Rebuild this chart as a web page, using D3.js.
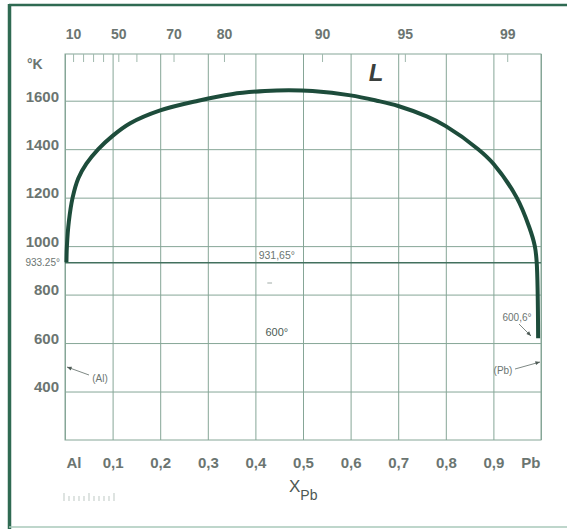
<!DOCTYPE html>
<html>
<head>
<meta charset="utf-8">
<script src="https://cdn.jsdelivr.net/npm/d3@7"></script>
<style>
  html, body { margin: 0; padding: 0; background: #fff; }
  svg { display: block; font-family: "Liberation Sans", Arial, sans-serif; }
</style>
</head>
<body>
<div id="chart"></div>
<script>
// bottom axis: mole fraction of Pb
const xTicks = [0, 0.1, 0.2, 0.3, 0.4, 0.5, 0.6, 0.7, 0.8, 0.9, 1];
const xLabels = ["Al", "0,1", "0,2", "0,3", "0,4", "0,5", "0,6", "0,7", "0,8", "0,9", "Pb"];
// left axis: temperature in K
const yTicks = [400, 600, 800, 1000, 1200, 1400, 1600];
// top axis: weight % Pb, placed at the mole fraction
const topTicks = [0.017, 0.038, 0.059, 0.080, 0.112, 0.150, 0.228, 0.334, 0.540, 0.714, 0.929];
const topLabels = ["10", "", "", "", "50", "", "70", "80", "90", "95", "99"];
// liquidus / miscibility gap curve: [xPb, T]
const curveX = [0.003, 0.004, 0.008, 0.016, 0.028, 0.045, 0.07, 0.1, 0.137, 0.2, 0.28, 0.35, 0.42, 0.47, 0.52, 0.6, 0.655, 0.7, 0.76, 0.8, 0.868, 0.9, 0.949, 0.975, 0.987, 0.991, 0.994];
const curveT = [933.25, 1000, 1100, 1200, 1280, 1340, 1400, 1455, 1507, 1560, 1600, 1627, 1640, 1643, 1640, 1622, 1600, 1578, 1535, 1495, 1400, 1340, 1200, 1080, 1000, 931.65, 620];
const monotectic = 931.65;

const W = 567, H = 529;
const pLeft = 65, pRight = 541, pTop = 54, pBottom = 440;

const svg = d3.select("#chart").append("svg")
    .attr("width", W)
    .attr("height", H);

const gridColor = "#86a697";
const textColor = "#6b7571";
const curveColor = "#1d4c3b";

// outer border of the figure
svg.append("line").attr("x1", 9).attr("x2", W).attr("y1", 5).attr("y2", 5)
    .attr("stroke", "#2f6a52").attr("stroke-width", 2.5);
svg.append("line").attr("x1", 9.5).attr("x2", 9.5).attr("y1", 4).attr("y2", H)
    .attr("stroke", "#2f6a52").attr("stroke-width", 3.5);
svg.append("line").attr("x1", 9).attr("x2", W).attr("y1", 527).attr("y2", 527)
    .attr("stroke", "#a9c8ba").attr("stroke-width", 1.5);

const x = d3.scaleLinear().domain([0, 1]).range([pLeft, pRight]);
const y = d3.scaleLinear().domain([200, 1600]).range([pBottom, 100.7]);

// plot frame
svg.append("rect")
    .attr("x", pLeft).attr("y", pTop)
    .attr("width", pRight - pLeft).attr("height", pBottom - pTop)
    .attr("fill", "none").attr("stroke", gridColor).attr("stroke-width", 1);

// bottom axis with vertical grid
const xAxis = svg.append("g")
    .attr("transform", "translate(0," + pBottom + ")")
    .call(d3.axisBottom(x)
      .tickValues(xTicks)
      .tickSize(-(pBottom - pTop))
      .tickPadding(17)
      .tickFormat((d, i) => xLabels[i]));
xAxis.select(".domain").remove();
xAxis.selectAll("line").attr("stroke", gridColor);
xAxis.selectAll("text")
    .attr("fill", textColor).attr("font-size", 15).attr("font-weight", "bold")
    .attr("font-family", "Liberation Sans, Arial, sans-serif")
    .attr("text-anchor", (d, i) => i === 0 ? "start" : (i === xTicks.length - 1 ? "end" : "middle"))
    .attr("dx", (d, i) => i === 0 ? 1 : (i === xTicks.length - 1 ? -1 : 0));

// left axis with horizontal grid
const yAxis = svg.append("g")
    .attr("transform", "translate(" + pLeft + ",0)")
    .call(d3.axisLeft(y)
      .tickValues(yTicks)
      .tickSize(-(pRight - pLeft))
      .tickPadding(6)
      .tickFormat(d3.format("d")));
yAxis.select(".domain").remove();
yAxis.selectAll("line").attr("stroke", gridColor);
yAxis.selectAll("text")
    .attr("fill", textColor).attr("font-size", 15).attr("font-weight", "bold")
    .attr("font-family", "Liberation Sans, Arial, sans-serif")
    .attr("dy", "0.02em");

// top axis: wt.% Pb
const topAxis = svg.append("g")
    .attr("transform", "translate(0," + pTop + ")")
    .call(d3.axisTop(x)
      .tickValues(topTicks)
      .tickSize(-8)
      .tickPadding(15)
      .tickFormat((d, i) => topLabels[i]));
topAxis.select(".domain").remove();
topAxis.selectAll("line").attr("stroke", "#9fb8ac");
topAxis.selectAll("text")
    .attr("fill", textColor).attr("font-size", 14).attr("font-weight", "bold")
    .attr("font-family", "Liberation Sans, Arial, sans-serif");

// monotectic line
svg.append("line")
    .attr("x1", pLeft).attr("x2", pRight)
    .attr("y1", y(monotectic)).attr("y2", y(monotectic))
    .attr("stroke", "#42705e").attr("stroke-width", 1.6);

// curve
const pts = curveX.map((d, i) => [d, curveT[i]]);
svg.append("path")
    .datum(pts)
    .attr("fill", "none")
    .attr("stroke", curveColor)
    .attr("stroke-width", 4)
    .attr("stroke-linecap", "butt")
    .attr("d", d3.line().x(d => x(d[0])).y(d => y(d[1])).curve(d3.curveCatmullRom.alpha(0.5)));

// labels
svg.append("text").attr("x", 27).attr("y", 69)
    .attr("fill", textColor).attr("font-size", 14).attr("font-weight", "bold").text("°K");

svg.append("text").attr("x", 376).attr("y", 81)
    .attr("text-anchor", "middle").attr("fill", "#3a3f3d")
    .attr("font-size", 24).attr("font-style", "italic").attr("font-weight", "bold").text("L");

svg.append("text").attr("x", 60).attr("y", y(933.25) + 3.5)
    .attr("text-anchor", "end").attr("fill", textColor).attr("font-size", 10).text("933.25°");

svg.append("text").attr("x", x(0.445)).attr("y", y(monotectic) - 4)
    .attr("text-anchor", "middle").attr("fill", textColor).attr("font-size", 10.5).text("931,65°");

svg.append("line").attr("x1", x(0.425)).attr("x2", x(0.435))
    .attr("y1", 283).attr("y2", 283).attr("stroke", "#a0aba6").attr("stroke-width", 1);

svg.append("text").attr("x", x(0.445)).attr("y", 336)
    .attr("text-anchor", "middle").attr("fill", "#4b5c55").attr("font-size", 11).text("600°");

svg.append("text").attr("x", 517).attr("y", 321)
    .attr("text-anchor", "middle").attr("fill", textColor).attr("font-size", 10).text("600,6°");

// arrows
const arrows = [
  { x1: 519, y1: 324, x2: 531, y2: 336 },
  { x1: 515, y1: 369, x2: 540, y2: 362 },
  { x1: 89, y1: 375, x2: 67, y2: 367 }
];
arrows.forEach(a => {
  svg.append("line").attr("x1", a.x1).attr("y1", a.y1).attr("x2", a.x2).attr("y2", a.y2)
      .attr("stroke", "#6f7b76").attr("stroke-width", 0.9);
  const ang = Math.atan2(a.y2 - a.y1, a.x2 - a.x1);
  const L = 5, s = 0.4;
  svg.append("path")
      .attr("d", "M" + a.x2 + "," + a.y2 +
        "L" + (a.x2 - L * Math.cos(ang - s)) + "," + (a.y2 - L * Math.sin(ang - s)) +
        "L" + (a.x2 - L * Math.cos(ang + s)) + "," + (a.y2 - L * Math.sin(ang + s)) + "Z")
      .attr("fill", "#4f5c57");
});

svg.append("text").attr("x", 100).attr("y", 382)
    .attr("text-anchor", "middle").attr("fill", textColor).attr("font-size", 10).text("(Al)");
svg.append("text").attr("x", 503).attr("y", 374)
    .attr("text-anchor", "middle").attr("fill", textColor).attr("font-size", 10).text("(Pb)");

// x axis title
const xt = svg.append("text").attr("x", 289).attr("y", 492)
    .attr("fill", "#4d5853").attr("font-size", 17);
xt.append("tspan").text("X");
xt.append("tspan").attr("dy", 8).attr("font-size", 14).text("Pb");

// faint scale mark
const scaleTicks = [0, 1, 2, 3, 4, 5, 6, 7, 8, 9, 10];
const sx = d3.scaleLinear().domain([0, 10]).range([64, 114]);
svg.append("g").selectAll("line").data(scaleTicks).enter().append("line")
    .attr("x1", d => sx(d)).attr("x2", d => sx(d))
    .attr("y1", d => d % 5 === 0 ? 493 : 496).attr("y2", 501)
    .attr("stroke", "#c9d2ce").attr("stroke-width", 1.2);
</script>
</body>
</html>
